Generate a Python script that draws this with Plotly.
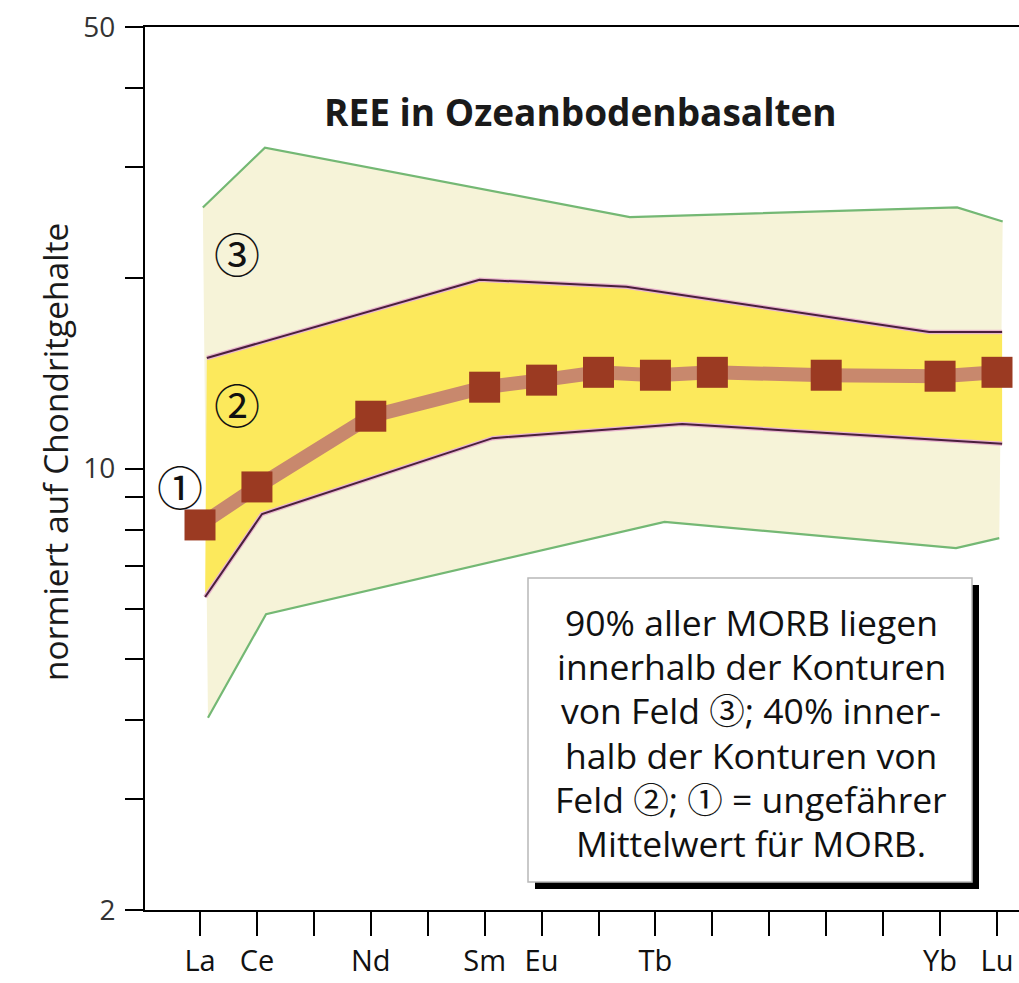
import numpy as np
import plotly.graph_objects as go

# ---------------- data ----------------
elements = ['La', 'Ce', 'Pr', 'Nd', 'Pm', 'Sm', 'Eu', 'Gd', 'Tb', 'Dy', 'Ho', 'Er', 'Tm', 'Yb', 'Lu']
shown_labels = ['La', 'Ce', 'Nd', 'Sm', 'Eu', 'Tb', 'Yb', 'Lu']

# approximate MORB mean (field 1), chondrite-normalised
morb_elements = ['La', 'Ce', 'Nd', 'Sm', 'Eu', 'Gd', 'Tb', 'Dy', 'Er', 'Yb', 'Lu']
morb_values = [8.14, 9.35, 12.1, 13.45, 13.8, 14.2, 14.05, 14.2, 14.05, 14.0, 14.2]

# field 3 (90 % of MORB) outline; x in element-index units
f3_upper_x = [0.05, 1.14, 7.55, 13.30, 14.10]
f3_upper_v = [25.9, 32.2, 25.0, 25.9, 24.6]
f3_lower_x = [0.14, 1.16, 8.16, 13.28, 14.04]
f3_lower_v = [4.03, 5.88, 8.23, 7.48, 7.76]

# field 2 (40 % of MORB) outline
f2_upper_x = [0.12, 4.91, 7.49, 12.81, 14.09]
f2_upper_v = [14.96, 19.9, 19.4, 16.45, 16.45]
f2_lower_x = [0.09, 1.09, 5.14, 8.47, 14.09]
f2_lower_v = [6.26, 8.47, 11.17, 11.76, 10.94]

y_tickvals = [2, 3, 4, 5, 6, 7, 8, 9, 10, 20, 30, 40, 50]
y_ticklabels = {2: '2', 10: '10', 50: '50'}

title_text = 'REE in Ozeanbodenbasalten'
ylabel_text = 'normiert auf Chondritgehalte'
box_lines = ['90% aller MORB liegen',
             'innerhalb der Konturen',
             'von Feld ③; 40% inner-',
             'halb der Konturen von',
             'Feld ②; ① = ungefährer',
             'Mittelwert für MORB.']
field_labels = ['③', '②', '①']
field_label_x = [0.65, 0.65, -0.35]
field_label_v = [22.0, 12.7, 9.42]

# ---------------- styling ----------------
C_F3 = '#f6f3d8'
C_F2 = '#fce95c'
C_GREEN = '#74b874'
C_PURPLE = '#4a1f3c'
C_HALO = '#e9b6cf'
C_MEAN_LINE = '#c8886d'
C_MEAN_MARK = '#9b3a22'
FONT = 'Open Sans, Noto Sans CJK JP, DejaVu Sans, sans-serif'

idx = {e: i for i, e in enumerate(elements)}
morb_x = [idx[e] for e in morb_elements]

fig = go.Figure()

# field 3 fill
fig.add_trace(go.Scatter(x=f3_upper_x + f3_lower_x[::-1], y=f3_upper_v + f3_lower_v[::-1],
                         fill='toself', fillcolor=C_F3, mode='none', hoverinfo='skip', showlegend=False))
# field 2 fill
fig.add_trace(go.Scatter(x=f2_upper_x + f2_lower_x[::-1], y=f2_upper_v + f2_lower_v[::-1],
                         fill='toself', fillcolor=C_F2, mode='none', hoverinfo='skip', showlegend=False))
# green outlines
for xs, vs in [(f3_upper_x, f3_upper_v), (f3_lower_x, f3_lower_v)]:
    fig.add_trace(go.Scatter(x=xs, y=vs, mode='lines', line=dict(color=C_GREEN, width=2.2),
                             hoverinfo='skip', showlegend=False))
# purple outlines with pink halo
for xs, vs in [(f2_upper_x, f2_upper_v), (f2_lower_x, f2_lower_v)]:
    fig.add_trace(go.Scatter(x=xs, y=vs, mode='lines', line=dict(color=C_HALO, width=4.5),
                             hoverinfo='skip', showlegend=False))
    fig.add_trace(go.Scatter(x=xs, y=vs, mode='lines', line=dict(color=C_PURPLE, width=2),
                             hoverinfo='skip', showlegend=False))
# MORB mean
fig.add_trace(go.Scatter(x=morb_x, y=morb_values, mode='lines',
                         line=dict(color=C_MEAN_LINE, width=14), hoverinfo='skip', showlegend=False))
fig.add_trace(go.Scatter(x=morb_x, y=morb_values, mode='markers',
                         marker=dict(symbol='square', size=31, color=C_MEAN_MARK, line=dict(width=0)),
                         showlegend=False))

# body margin is removed by the post script, so the figure fills the window exactly
W, H = 1019, 983
ML, MR, MT, MB = 145, 0, 27, 73
PW, PH = W - ML - MR, H - MT - MB


def px_x(px):
    return (px - ML) / PW


def px_y(py):
    return (H - MB - py) / PH


annotations = []
# title
annotations.append(dict(text='<b>' + title_text + '</b>', xref='paper', yref='paper',
                        x=px_x(580), y=px_y(111), xanchor='center', yanchor='middle', showarrow=False,
                        font=dict(family=FONT, size=37, color='#1a1a1a')))
# y-axis label
annotations.append(dict(text=ylabel_text, xref='paper', yref='paper', x=px_x(55), y=px_y(452),
                        xanchor='center', yanchor='middle',
                        textangle=-90, showarrow=False, font=dict(family=FONT, size=33.5, color='#1a1a1a')))
# field labels
for t, xv, yv in zip(field_labels, field_label_x, field_label_v):
    annotations.append(dict(text=t, xref='x', yref='y', x=xv, y=np.log10(yv), showarrow=False,
                            xanchor='center', yanchor='middle',
                            font=dict(family='Noto Sans CJK JP', size=46, color='#111')))
# box text, one line each
line_y0, line_dy = 622, 44.2
for i, ln in enumerate(box_lines):
    annotations.append(dict(text=ln, xref='paper', yref='paper',
                            x=px_x(751), y=px_y(line_y0 + i * line_dy), xanchor='center', yanchor='middle',
                            showarrow=False, font=dict(family=FONT, size=35.5, color='#111')))

shapes = [
    dict(type='rect', xref='paper', yref='paper', x0=px_x(535), x1=px_x(979), y0=px_y(889), y1=px_y(585),
         fillcolor='black', line=dict(width=0), layer='above'),
    dict(type='rect', xref='paper', yref='paper', x0=px_x(528), x1=px_x(972), y0=px_y(882), y1=px_y(578),
         fillcolor='white', line=dict(color='#b8b8b8', width=1.5), layer='above'),
]

step = (997 - 200) / 14.0
fig.update_layout(
    width=W, height=H, autosize=False,
    margin=dict(l=ML, r=MR, t=MT, b=MB),
    paper_bgcolor='white', plot_bgcolor='white',
    annotations=annotations, shapes=shapes,
    xaxis=dict(range=[(ML - 200) / step, (W - MR - 200) / step], showgrid=False, zeroline=False,
               showline=True, linecolor='black', linewidth=2, mirror=True,
               ticks='outside', ticklen=24, tickwidth=2, tickcolor='black', ticklabeloverflow='allow',
               tickvals=list(range(len(elements))),
               ticktext=[e if e in shown_labels else '' for e in elements],
               tickfont=dict(family=FONT, size=29, color='#111')),
    yaxis=dict(type='log', range=[np.log10(2), np.log10(50)], showgrid=False, zeroline=False,
               showline=True, linecolor='black', linewidth=2, ticklabeloverflow='allow',
               ticks='outside', ticklen=18, tickwidth=2, tickcolor='black', ticklabelstandoff=4,
               tickvals=y_tickvals, ticktext=[y_ticklabels.get(v, '') for v in y_tickvals],
               tickfont=dict(family=FONT, size=28, color='#333')),
)

fig.write_html('out.html', config={'displayModeBar': False},
               post_script="document.body.style.margin='0';document.body.style.overflow='hidden';")
